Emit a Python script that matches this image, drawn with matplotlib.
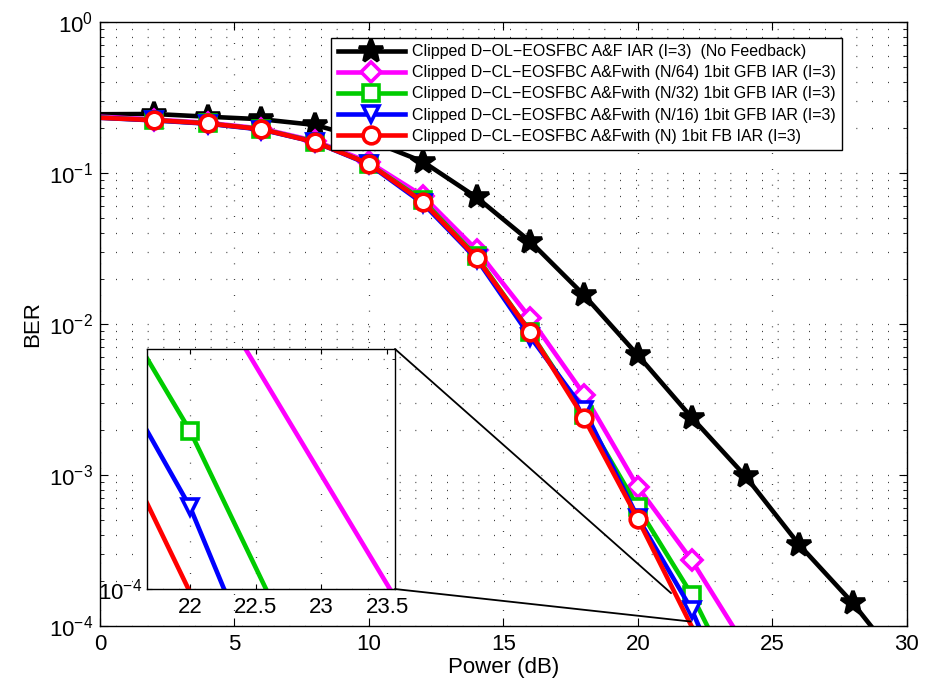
import numpy as np
import matplotlib
matplotlib.use("Agg")
import matplotlib.pyplot as plt
from matplotlib.patches import ConnectionPatch
from matplotlib.ticker import NullFormatter, FixedLocator

plt.rcParams['font.family'] = ['Liberation Sans', 'DejaVu Sans']
plt.rcParams['mathtext.fontset'] = 'custom'
plt.rcParams['mathtext.rm'] = 'Liberation Sans'
plt.rcParams['mathtext.it'] = 'Liberation Sans:italic'
plt.rcParams['xtick.direction'] = 'in'
plt.rcParams['ytick.direction'] = 'in'

# power axis (dB)
power_ol = [0, 2, 4, 6, 8, 10, 12, 14, 16, 18, 20, 22, 24, 26, 28, 30]
power_cl = [0, 2, 4, 6, 8, 10, 12, 14, 16, 18, 20, 22, 24]

# BER values
ber_ol = [0.245, 0.246, 0.236, 0.227, 0.208, 0.165, 0.119, 0.069, 0.0351,
          0.0155, 0.0062, 0.0024, 0.00098, 0.000344, 0.000141, 5.0e-5]
ber_n64 = [0.236, 0.226, 0.215, 0.197, 0.163, 0.118, 0.0705, 0.031, 0.0109,
           0.0034, 8.3e-4, 2.72e-4, 7.3e-5]
ber_n32 = [0.233, 0.224, 0.213, 0.195, 0.161, 0.115, 0.066, 0.028, 0.0088,
           0.0025, 6.1e-4, 1.61e-4, 3.1e-5]
ber_n16 = [0.232, 0.223, 0.212, 0.194, 0.160, 0.114, 0.063, 0.027, 0.0082,
           0.0027, 5.2e-4, 1.28e-4, 1.9e-5]
ber_n = [0.232, 0.224, 0.213, 0.195, 0.160, 0.115, 0.0646, 0.0275, 0.0088,
         0.00237, 5.1e-4, 0.99e-4, 2.0e-5]

labels = ["Clipped D\u2212OL\u2212EOSFBC A&F IAR (I=3)  (No Feedback)",
          "Clipped D\u2212CL\u2212EOSFBC A&Fwith (N/64) 1bit GFB IAR (I=3)",
          "Clipped D\u2212CL\u2212EOSFBC A&Fwith (N/32) 1bit GFB IAR (I=3)",
          "Clipped D\u2212CL\u2212EOSFBC A&Fwith (N/16) 1bit GFB IAR (I=3)",
          "Clipped D\u2212CL\u2212EOSFBC A&Fwith (N) 1bit FB IAR (I=3)"]

series = [(power_ol, ber_ol, 'k', '*', 'k', 18),
          (power_cl, ber_n64, '#ff00ff', 'D', 'w', 10),
          (power_cl, ber_n32, '#00cc00', 's', 'w', 11),
          (power_cl, ber_n16, '#0000ff', 'v', 'w', 12),
          (power_cl, ber_n, '#ff0000', 'o', 'w', 12)]

fig = plt.figure(figsize=(9.25, 6.92), dpi=100)
ax = fig.add_axes([0.1081, 0.0954, 0.8724, 0.8728])


def draw(a, label=True):
    for (xs, ys, c, m, fc, ms), lab in zip(series, labels):
        xs = np.array(xs)
        ys = np.array(ys)
        idx = [i for i in range(len(xs)) if xs[i] > 0 and ys[i] >= 1e-4]
        a.plot(xs, ys, color=c, lw=3.3, marker=m, markersize=ms,
               markerfacecolor=fc, markeredgecolor=c, markeredgewidth=2.6,
               markevery=idx, label=lab if label else None)


fs = 16
gls = (0, (0.6, 12))

draw(ax)
ax.set_yscale('log')
ax.set_xlim(0, 30)
ax.set_ylim(1e-4, 1)
ax.set_xticks([0, 5, 10, 15, 20, 25, 30])
ax.tick_params(axis='both', which='both', top=True, right=True, labelsize=fs)
ax.tick_params(axis='x', pad=6)
ax.tick_params(axis='y', pad=5)
ax.tick_params(which='major', length=6)
ax.tick_params(which='minor', length=3)
ax.yaxis.set_minor_formatter(NullFormatter())
ax.grid(True, which='major', color='k', lw=0.9, linestyle=gls)
ax.grid(True, which='minor', axis='y', color='k', lw=0.9, linestyle=gls)
ax.set_xlabel("Power (dB)", fontsize=fs, labelpad=1)
ax.set_ylabel("BER", fontsize=fs, labelpad=4)
for s in ax.spines.values():
    s.set_linewidth(1.0)

leg = ax.legend(loc='upper right', bbox_to_anchor=(0.910, 0.9447),
                bbox_transform=fig.transFigure, fontsize=11.5, numpoints=1,
                handlelength=4.2, fancybox=False, framealpha=1,
                edgecolor='k', borderpad=0.38, labelspacing=0.38,
                handletextpad=0.45, borderaxespad=0)
leg.get_frame().set_linewidth(1.0)

# zoomed inset
axin = fig.add_axes([0.1586, 0.1488, 0.2684, 0.3469])
draw(axin, label=False)
axin.set_yscale('log')
axin.set_xlim(21.67, 23.56)
axin.set_ylim(1e-4, 2.06e-4)
axin.set_xticks([22, 22.5, 23, 23.5])
axin.set_xticklabels(['22', '22.5', '23', '23.5'])
axin.yaxis.set_major_locator(FixedLocator([1e-4]))
axin.yaxis.set_minor_locator(FixedLocator([2e-4]))
axin.yaxis.set_minor_formatter(NullFormatter())
axin.tick_params(axis='both', which='both', top=True, right=True, labelsize=fs)
axin.tick_params(axis='x', pad=6)
axin.grid(True, which='major', color='k', lw=0.9, linestyle=gls)
axin.grid(True, which='minor', axis='y', color='k', lw=0.9, linestyle=gls)
for s in axin.spines.values():
    s.set_linewidth(1.0)

for corner, target in [((1, 1), (21.23, 1.65e-4)), ((1, 0), (21.96, 1.07e-4))]:
    con = ConnectionPatch(xyA=corner, coordsA=axin.transAxes,
                          xyB=target, coordsB=ax.transData,
                          color='k', lw=1.3)
    fig.add_artist(con)

fig.savefig("out.png", dpi=100)
